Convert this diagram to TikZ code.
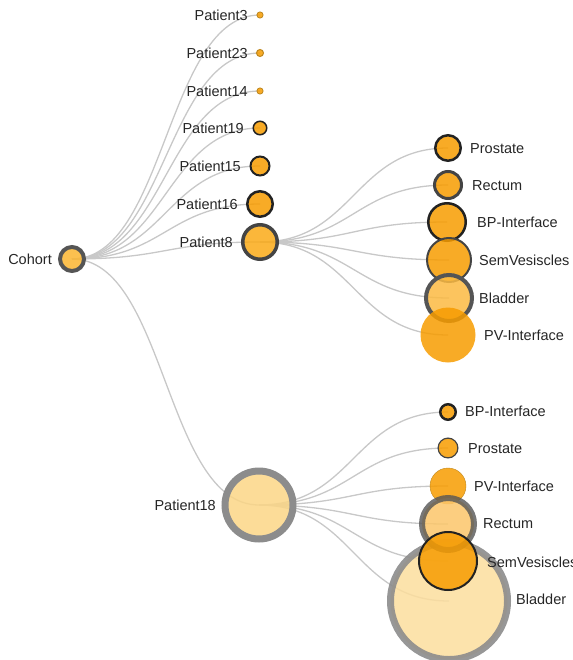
\documentclass[tikz,border=0pt]{standalone}
\usepackage{fontspec}
\setmainfont{Liberation Sans}
\pgfdeclarelayer{bg}
\pgfsetlayers{bg,main}
\definecolor{linkgray}{RGB}{200,200,200}
\definecolor{orng}{RGB}{247,156,0}
\definecolor{cohortfill}{RGB}{250,181,48}
\definecolor{ptfill}{RGB}{250,170,23}
\definecolor{ptlight}{RGB}{251,214,134}
\definecolor{bladeight}{RGB}{251,186,66}
\definecolor{recteen}{RGB}{252,198,106}
\definecolor{bladteen}{RGB}{252,222,157}
\definecolor{labelcol}{RGB}{38,38,38}
\definecolor{darkring}{RGB}{34,34,34}
\definecolor{midring}{RGB}{68,68,68}
\definecolor{grayring}{RGB}{85,85,85}
\definecolor{lightring}{RGB}{140,140,140}
\definecolor{dotring}{RGB}{190,135,30}
\tikzset{
  circ/.style={circle, inner sep=0pt, fill opacity=0.85},
  lbl/.style={inner sep=0pt, text height=10.4pt, text depth=0pt, text=labelcol,
    font=\fontsize{14.5}{16}\selectfont},
  link/.style={draw=linkgray, line width=1.3pt},
}
\newcommand\lk[3]{\draw[link] (#1.center) to[out=0,in=180,out distance=#3,in distance=#3] (#2.center);}
\begin{document}
\begin{tikzpicture}[x=1pt,y=-1pt]
\useasboundingbox (0,0) rectangle (572,660);
\clip (0,0) rectangle (572,660);
% nodes
\node[circ, minimum size=24pt, fill=cohortfill, draw=grayring, line width=4pt] (cohort) at (72,259) {};
\node[circ, minimum size=6.2pt, fill=orng, draw=dotring, line width=0.8pt] (p3) at (260,15) {};
\node[circ, minimum size=7pt, fill=orng, draw=dotring, line width=1pt] (p23) at (260,53) {};
\node[circ, minimum size=6.2pt, fill=orng, draw=dotring, line width=0.8pt] (p14) at (260,91) {};
\node[circ, minimum size=13.5pt, fill=orng, draw=darkring, line width=1.5pt] (p19) at (260,128) {};
\node[circ, minimum size=19pt, fill=orng, draw=darkring, line width=2pt] (p15) at (260,166) {};
\node[circ, minimum size=25.5pt, fill=orng, draw=darkring, line width=2.5pt] (p16) at (260,204) {};
\node[circ, minimum size=34.5pt, fill=ptfill, draw=midring, line width=3.5pt] (p8) at (260,242) {};
% Patient8 children
\node[circ, minimum size=25.5pt, fill=orng, draw=darkring, line width=2.5pt] (aPro) at (448,148) {};
\node[circ, minimum size=27pt, fill=orng, draw=midring, line width=3pt] (aRec) at (448,185) {};
\node[circ, minimum size=37.5pt, fill=orng, draw=darkring, line width=2.5pt] (aBP) at (447,222) {};
\node[circ, minimum size=44pt, fill=orng, draw=midring, line width=2pt] (aSem) at (449,260) {};
\node[circ, minimum size=46pt, fill=bladeight, draw=grayring, line width=4pt] (aBla) at (449,298) {};
\node[circ, minimum size=55pt, fill=orng] (aPV) at (448,335) {};
% Patient18
\node[circ, minimum size=68pt, fill=ptlight, draw=lightring, line width=7pt] (p18) at (259,505) {};
\node[circ, minimum size=117pt, fill=bladteen, draw=lightring, draw opacity=0.9, line width=7pt] (bBla) at (449,601) {};
\node[circ, minimum size=15.5pt, fill=orng, draw=darkring, line width=2.5pt] (bBP) at (448,412) {};
\node[circ, minimum size=19.8pt, fill=orng, draw=midring, line width=1.2pt] (bPro) at (448,448) {};
\node[circ, minimum size=36pt, fill=orng, draw=dotring, line width=0.4pt] (bPV) at (448,486) {};
\node[circ, minimum size=52pt, fill=recteen, draw=grayring, draw opacity=0.8, line width=6pt] (bRec) at (448,524) {};
\node[circ, minimum size=58pt, fill=orng, draw=darkring, line width=2pt] (bSem) at (448,561) {};
% links
\begin{pgfonlayer}{bg}
\lk{cohort}{p3}{94pt}
\lk{cohort}{p23}{94pt}
\lk{cohort}{p14}{94pt}
\lk{cohort}{p19}{94pt}
\lk{cohort}{p15}{94pt}
\lk{cohort}{p16}{94pt}
\lk{cohort}{p8}{94pt}
\lk{cohort}{p18}{94pt}
\lk{p8}{aPro}{94pt}
\lk{p8}{aRec}{94pt}
\lk{p8}{aBP}{94pt}
\lk{p8}{aSem}{94pt}
\lk{p8}{aBla}{94pt}
\lk{p8}{aPV}{94pt}
\lk{p18}{bBP}{95pt}
\lk{p18}{bPro}{95pt}
\lk{p18}{bPV}{95pt}
\lk{p18}{bRec}{95pt}
\lk{p18}{bSem}{95pt}
\lk{p18}{bBla}{95pt}
\end{pgfonlayer}
% labels
\node[lbl, anchor=east] (lcohort) at (52,259) {Cohort};
\node[lbl, anchor=east] (lp3) at (248,15) {Patient3};
\node[lbl, anchor=east] (lp23) at (248,53) {Patient23};
\node[lbl, anchor=east] (lp14) at (248,91) {Patient14};
\node[lbl, anchor=east] (lp19) at (244,128) {Patient19};
\node[lbl, anchor=east] (lp15) at (241,166) {Patient15};
\node[lbl, anchor=east] (lp16) at (238,204) {Patient16};
\node[lbl, anchor=east] (lp8) at (233,242) {Patient8};
\node[lbl, anchor=east] (lp18) at (216,505) {Patient18};
\node[lbl, anchor=west] (laPro) at (470,148) {Prostate};
\node[lbl, anchor=west] (laRec) at (472,185) {Rectum};
\node[lbl, anchor=west] (laBP) at (477,222) {BP-Interface};
\node[lbl, anchor=west] (laSem) at (479,260) {SemVesiscles};
\node[lbl, anchor=west] (laBla) at (479,298) {Bladder};
\node[lbl, anchor=west] (laPV) at (484,335) {PV-Interface};
\node[lbl, anchor=west] (lbBP) at (465,411) {BP-Interface};
\node[lbl, anchor=west] (lbPro) at (468,448) {Prostate};
\node[lbl, anchor=west] (lbPV) at (474,486) {PV-Interface};
\node[lbl, anchor=west] (lbRec) at (483,523) {Rectum};
\node[lbl, anchor=west] (lbSem) at (487,562) {SemVesiscles};
\node[lbl, anchor=west] (lbBla) at (516,599) {Bladder};
\end{tikzpicture}
\end{document}
